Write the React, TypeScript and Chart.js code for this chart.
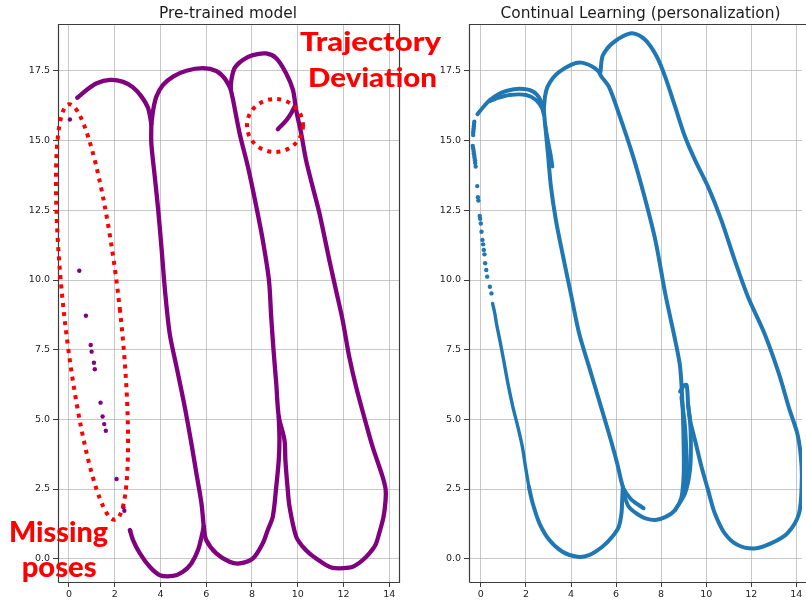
import React, { useEffect, useRef } from "react";
import { Chart, registerables } from "chart.js";

Chart.register(...registerables);

type P = [number, number];

// ---------- shared axis data ----------
const xTicks = [0, 2, 4, 6, 8, 10, 12, 14];
const yTicks = [0, 2.5, 5, 7.5, 10, 12.5, 15, 17.5];
const leftTitle = "Pre-trained model";
const rightTitle = "Continual Learning (personalization)";

// ---------- Pre-trained model (purple) ----------
const preArcA: P[] = [[0.36, 16.54], [0.77, 16.82], [1.21, 17.06], [1.79, 17.18], [2.37, 17.11], [2.8, 16.91], [3.17, 16.58], [3.46, 16.16], [3.6, 15.6]];
const preLineA: P[] = [[3.6, 15.6], [3.6, 14.9], [3.75, 13.71], [3.9, 12.51], [4.04, 11.2], [4.2, 9.6], [4.4, 8.09], [4.7, 6.89], [5.06, 5.45], [5.35, 4.14], [5.57, 3.06], [5.79, 1.99], [5.89, 1.15]];
const preLobeB: P[] = [[3.6, 15.6], [3.68, 16.1], [3.82, 16.58], [4.11, 17.0], [4.55, 17.3], [5.13, 17.51], [5.86, 17.6], [6.44, 17.5], [6.8, 17.24], [7.02, 16.94], [7.07, 16.84]];
const preLoopC: P[] = [[7.07, 16.84], [7.17, 16.47], [7.46, 15.26], [7.82, 14.07], [8.19, 12.63], [8.47, 11.44], [8.74, 10.0], [8.84, 8.68], [8.94, 7.5], [9.06, 6.29], [9.17, 5.1], [9.42, 4.26], [9.46, 3.54], [9.55, 2.6], [9.64, 1.87], [9.93, 0.79], [10.2, 0.45], [10.51, 0.19], [10.9, -0.05], [11.24, -0.23], [11.53, -0.33], [12.0, -0.34], [12.4, -0.29], [12.8, -0.08], [13.13, 0.19], [13.4, 0.5], [13.56, 0.91], [13.75, 1.5], [13.84, 2.1], [13.84, 2.5], [13.71, 2.94], [13.27, 4.02], [12.98, 4.86], [12.55, 6.17], [12.25, 7.25], [11.96, 8.57], [11.67, 9.64], [11.38, 10.72], [10.95, 12.39], [10.65, 13.35], [10.36, 14.31], [10.15, 15.26], [9.93, 16.1], [9.79, 16.82], [9.49, 17.42], [9.06, 17.96], [8.62, 18.13], [8.04, 18.07], [7.6, 17.89], [7.24, 17.6], [7.1, 17.18], [7.07, 16.84]];
const preU1: P[] = [[2.66, 1.03], [2.8, 0.67], [3.1, 0.19], [3.53, -0.29], [3.97, -0.59], [4.55, -0.62], [4.98, -0.47], [5.35, -0.17], [5.64, 0.31], [5.83, 0.91], [5.89, 1.15]];
const preU2: P[] = [[5.89, 1.15], [6.0, 0.67], [6.44, 0.19], [7.02, -0.11], [7.46, -0.17], [8.04, 0.01], [8.47, 0.55], [8.69, 1.03], [8.91, 1.51], [9.06, 2.58], [9.17, 3.54], [9.2, 4.3], [9.17, 5.1]];
const preHook: P[] = [[9.86, 16.22], [9.71, 15.98], [9.49, 15.72], [9.13, 15.41]];
const preMissing: P[] = [[0.04, 15.76], [0.45, 10.33], [0.74, 8.72], [0.95, 7.67], [0.99, 7.43], [1.09, 7.03], [1.13, 6.8], [1.38, 5.6], [1.47, 5.1], [1.54, 4.83], [1.61, 4.59], [2.08, 2.86], [2.38, 1.85], [2.42, 1.72], [2.68, 1.0]];

// ---------- Continual Learning (blue) ----------
const clSparse: P[] = [[-0.29, 15.68], [-0.3, 15.6], [-0.31, 15.52], [-0.32, 15.44], [-0.33, 15.36], [-0.34, 15.28], [-0.34, 15.2], [-0.36, 14.81], [-0.34, 14.72], [-0.32, 14.63], [-0.31, 14.55], [-0.29, 14.46], [-0.28, 14.38], [-0.26, 14.3], [-0.25, 14.2], [-0.23, 14.07], [-0.16, 13.37], [-0.13, 12.97], [-0.11, 12.85], [-0.05, 12.3], [-0.03, 12.2], [0.0, 12.03], [0.03, 11.73], [0.07, 11.44], [0.1, 11.28], [0.13, 11.08], [0.16, 10.92], [0.19, 10.6], [0.24, 10.36], [0.28, 10.12], [0.4, 9.76], [0.47, 9.52]];
const clDescent: P[] = [[0.52, 9.16], [0.62, 8.8], [0.69, 8.45], [0.84, 7.85], [1.01, 7.13], [1.2, 6.29], [1.42, 5.45], [1.64, 4.74], [1.84, 4.02], [1.98, 3.3], [2.13, 2.58]];
const clU1: P[] = [[2.13, 2.58], [2.3, 1.99], [2.6, 1.27], [3.04, 0.67], [3.62, 0.25], [4.28, 0.07], [4.8, 0.13], [5.39, 0.43], [5.83, 0.79], [6.12, 1.15], [6.24, 1.63], [6.27, 2.1], [6.3, 2.58]];
const clArcOuter: P[] = [[-0.15, 15.95], [0.1, 16.2], [0.4, 16.46], [0.76, 16.66], [1.13, 16.78], [1.72, 16.86], [2.3, 16.77], [2.6, 16.52], [2.79, 16.1]];
const clArcInner: P[] = [[0.4, 16.42], [0.69, 16.52], [1.28, 16.64], [2.01, 16.64], [2.45, 16.46], [2.72, 16.16], [2.79, 15.95]];
const clLineA: P[] = [[2.79, 16.1], [2.85, 15.6], [2.89, 15.26], [2.98, 14.5], [3.11, 13.35], [3.33, 12.15], [3.62, 10.96], [3.99, 9.52], [4.36, 8.09], [4.8, 6.89], [5.24, 5.7], [5.68, 4.5], [6.05, 3.42], [6.3, 2.58], [6.5, 2.3], [6.71, 2.1], [7.22, 1.81]];
const clBranch: P[] = [[2.85, 15.6], [2.98, 15.0], [3.1, 14.5], [3.18, 14.07]];
const clLobeB: P[] = [[2.79, 16.1], [2.85, 16.6], [2.96, 16.94], [3.2, 17.25], [3.48, 17.47], [4.0, 17.72], [4.43, 17.8], [4.9, 17.68], [5.2, 17.5], [5.35, 17.3], [5.68, 16.94], [6.12, 15.98], [6.71, 14.55], [7.22, 13.11], [7.74, 11.44], [8.18, 9.52], [8.4, 8.68], [8.62, 7.85], [8.84, 6.89], [8.95, 5.5], [9.0, 4.0], [9.0, 3.0], [8.9, 2.2], [8.62, 1.75], [8.2, 1.5], [7.74, 1.39], [7.3, 1.45], [7.0, 1.57], [6.56, 1.87], [6.35, 2.3]];
const clSubLoop: P[] = [[8.84, 6.0], [9.0, 6.2], [9.13, 6.23], [9.2, 5.5], [9.28, 4.98], [9.32, 4.14], [9.28, 3.18], [9.06, 2.35], [8.62, 1.75]];
const clBundle: P[] = [[8.9, 5.8], [9.05, 4.8], [9.12, 3.8], [9.15, 3.0], [9.05, 2.5]];
const clLobeC: P[] = [[5.31, 17.47], [5.39, 18.01], [5.6, 18.3], [5.83, 18.49], [6.2, 18.7], [6.71, 18.85], [7.3, 18.61], [7.81, 18.01], [8.18, 17.29], [8.62, 16.22], [9.06, 15.14], [9.5, 14.31], [10.08, 13.35], [10.67, 12.15], [11.26, 10.72], [11.85, 9.4], [12.58, 8.09], [13.2, 6.7], [13.7, 5.34], [14.04, 4.5], [14.2, 3.66], [14.24, 2.82], [14.12, 1.63], [13.6, 0.91], [12.87, 0.55], [12.14, 0.37], [11.4, 0.49], [10.82, 0.91], [10.38, 1.63], [10.08, 2.47], [9.79, 3.3], [9.5, 4.26], [9.28, 4.98], [9.2, 5.5]];

const PURPLE = "#800080";
const BLUE = "#1f77b4";

const toXY = (a: P[]) => a.map(([x, y]) => ({ x, y }));

function lineDs(a: P[], color: string, width: number) {
  return {
    data: toXY(a),
    showLine: true,
    borderColor: color,
    backgroundColor: color,
    borderWidth: width,
    pointRadius: 0,
    tension: 0.3,
    borderCapStyle: "round",
    borderJoinStyle: "round",
  };
}
function dotDs(a: P[], color: string, r: number) {
  return {
    data: toXY(a),
    showLine: false,
    borderColor: color,
    backgroundColor: color,
    borderWidth: 0,
    pointRadius: r,
  };
}

const framePlugin = {
  id: "frame",
  afterDatasetsDraw(chart: any, _a: any, opts: any) {
    const { ctx, chartArea: c } = chart;
    ctx.save();
    ctx.strokeStyle = "#3c3c3c";
    ctx.lineWidth = 1.2;
    ctx.beginPath();
    const l = Math.round(c.left) + 0.5;
    const t = Math.round(c.top) + 0.5;
    const b = Math.round(c.bottom) + 0.5;
    const r = Math.round(c.right) - 0.5;
    ctx.moveTo(l, b);
    ctx.lineTo(l, t);
    ctx.lineTo(opts.right ? r : c.right + 20, t);
    if (opts.right) ctx.lineTo(r, b);
    else ctx.moveTo(c.right + 20, b);
    ctx.lineTo(l, b);
    ctx.stroke();
    ctx.restore();
  },
};

const titlePlugin = {
  id: "ptitle",
  afterDraw(chart: any, _a: any, opts: any) {
    const { ctx } = chart;
    ctx.save();
    ctx.font = '15.4px "DejaVu Sans"';
    ctx.fillStyle = "#1a1a1a";
    ctx.textAlign = "center";
    ctx.textBaseline = "alphabetic";
    ctx.fillText(opts.text, opts.cx, 17.5);
    ctx.restore();
  },
};

function makeConfig(datasets: any[], o: any) {
  const tickFont = { family: "DejaVu Sans", size: 9.5 };
  const grid = {
    color: "rgba(176,176,176,0.7)",
    lineWidth: 1,
    tickColor: "#3c3c3c",
    tickLength: 5,
    tickWidth: 1,
    drawTicks: true,
  };
  return {
    type: "scatter",
    data: { datasets },
    plugins: [framePlugin, titlePlugin],
    options: {
      animation: false,
      responsive: false,
      maintainAspectRatio: false,
      events: [],
      layout: { padding: { left: 0, right: o.padRight, top: 24, bottom: 0 } },
      plugins: {
        legend: { display: false },
        tooltip: { enabled: false },
        title: { display: false },
        frame: { right: o.frameRight },
        ptitle: { text: o.title, cx: o.titleX },
      },
      scales: {
        x: {
          type: "linear",
          min: o.xMin,
          max: o.xMax,
          afterBuildTicks: (s: any) => {
            s.ticks = xTicks.map((v) => ({ value: v }));
          },
          afterFit: (s: any) => {
            s.height = 19;
            s.paddingLeft = 0;
            s.paddingRight = 0;
          },
          grid,
          border: { display: false },
          ticks: {
            font: tickFont,
            color: "#222",
            padding: 2,
            maxRotation: 0,
            autoSkip: false,
            callback: (v: any) => String(v),
          },
        },
        y: {
          type: "linear",
          min: -0.836,
          max: 19.186,
          afterBuildTicks: (s: any) => {
            s.ticks = yTicks.map((v) => ({ value: v }));
          },
          afterFit: (s: any) => {
            s.width = o.yWidth;
            s.paddingTop = 0;
            s.paddingBottom = 0;
          },
          grid,
          border: { display: false },
          ticks: {
            font: tickFont,
            color: "#222",
            padding: 3,
            autoSkip: false,
            callback: (v: any) => Number(v).toFixed(1),
          },
        },
      },
    },
  };
}

export default function App() {
  const leftRef = useRef<HTMLCanvasElement>(null);
  const rightRef = useRef<HTMLCanvasElement>(null);

  useEffect(() => {
    const W = 4.3;
    const leftSets = [
      lineDs(preArcA, PURPLE, W),
      lineDs(preLineA, PURPLE, W),
      lineDs(preLobeB, PURPLE, W),
      lineDs(preLoopC, PURPLE, W),
      lineDs(preU1, PURPLE, W),
      lineDs(preU2, PURPLE, W),
      lineDs(preHook, PURPLE, W),
      dotDs(preMissing, PURPLE, 2.2),
    ];
    const B = 4;
    const rightSets = [
      dotDs(clSparse, BLUE, 2.2),
      lineDs(clDescent, BLUE, 3.4),
      lineDs(clU1, BLUE, B),
      lineDs(clArcOuter, BLUE, B),
      lineDs(clArcInner, BLUE, B),
      lineDs(clLineA, BLUE, B),
      lineDs(clBranch, BLUE, 3.6),
      lineDs(clLobeB, BLUE, B),
      lineDs(clSubLoop, BLUE, B),
      lineDs(clBundle, BLUE, B),
      lineDs(clLobeC, BLUE, B),
    ];
    const left = new Chart(
      leftRef.current as HTMLCanvasElement,
      makeConfig(leftSets, {
        padRight: 20,
        yWidth: 58,
        xMin: -0.48,
        xMax: 14.47,
        frameRight: true,
        title: leftTitle,
        titleX: 228,
      }) as any
    );
    const right = new Chart(
      rightRef.current as HTMLCanvasElement,
      makeConfig(rightSets, {
        padRight: 0,
        yWidth: 59,
        xMin: -0.526,
        xMax: 14.25,
        frameRight: false,
        title: rightTitle,
        titleX: 230.5,
      }) as any
    );
    return () => {
      left.destroy();
      right.destroy();
    };
  }, []);

  const dotted = {
    fill: "none",
    stroke: "#ff0000",
    strokeWidth: 4,
    strokeDasharray: "4 5.3",
  } as const;
  const red = {
    fill: "#ff0000",
    fontFamily: "Lato, 'Open Sans', sans-serif",
    fontWeight: 900,
  } as const;

  return (
    <div
      style={{
        position: "absolute",
        left: 0,
        top: 0,
        width: 806,
        height: 601,
        overflow: "hidden",
        background: "#fff",
      }}
    >
      <canvas
        ref={leftRef}
        width={420}
        height={601}
        style={{ position: "absolute", left: 0, top: 0, width: 420, height: 601 }}
      />
      <canvas
        ref={rightRef}
        width={396}
        height={601}
        style={{ position: "absolute", left: 410, top: 0, width: 396, height: 601 }}
      />
      <svg
        width={806}
        height={601}
        style={{ position: "absolute", left: 0, top: 0, pointerEvents: "none" }}
      >
        <ellipse cx={92} cy={312} rx={28} ry={209} transform="rotate(-6.3 92 312)" {...dotted} />
        <ellipse cx={275} cy={125.5} rx={28} ry={26.5} {...dotted} />
        <text x={300} y={50.5} fontSize={26} textLength={141} lengthAdjust="spacingAndGlyphs" {...red}>
          Trajectory
        </text>
        <text x={308} y={87} fontSize={26} textLength={129} lengthAdjust="spacingAndGlyphs" {...red}>
          Deviation
        </text>
        <text x={9} y={541.7} fontSize={28} textLength={99} lengthAdjust="spacingAndGlyphs" {...red}>
          Missing
        </text>
        <text x={21.7} y={576.7} fontSize={28} textLength={75} lengthAdjust="spacingAndGlyphs" {...red}>
          poses
        </text>
      </svg>
    </div>
  );
}
